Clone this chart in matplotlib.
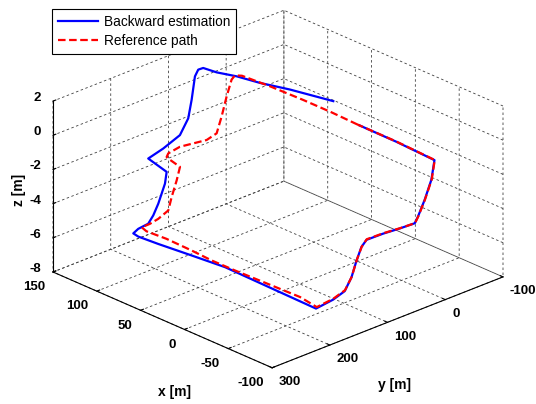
import numpy as np
import matplotlib
matplotlib.use('Agg')
import matplotlib.pyplot as plt

# reference path (forward order), metres
ref_x = [0, 30, 62, 100, 132, 133, 133, 133, 133, 133, 133, 133, 133, 133, 131,
         118, 118, 118, 118, 118, 118, 112, 106.6, 83.7, 55, 32, 5.5, -68.7, -88,
         -88, -88, -88, -88, -88, -88, -88, -88, -88, -88, -88, -88, -88, -44, 0]
ref_y = [0, 0, 0, 0, 0, 10.6, 16.4, 25, 33.7, 42.3, 59.7, 105.9, 126.1, 128.9, 129.1,
         128.6, 134.3, 143, 148.9, 166.2, 180.6, 204, 204, 204, 204, 204, 204, 204, 204.4,
         175.7, 155.4, 143.8, 135.2, 126.5, 117.8, 89.1, 60.2, 34.2, 28.5, 16.9, 5.3, 0, 0, 0]
ref_z = [0, 0.05, 0.05, 0, -0.1, 0.04, -0.13, -1.0, -2.06, -2.93, -3.09, -2.87, -2.99, -3.16, -3.21,
         -3.41, -4.12, -4.98, -5.69, -5.95, -6.05, -5.81, -5.92, -5.85, -5.89, -5.96, -5.95, -5.84, -5.99,
         -5.88, -5.65, -5.02, -4.16, -3.49, -3.17, -3.2, -3.29, -3.34, -3.02, -2.19, -1.17, -0.1, 0, 0]

# backward estimation (runs from the end of the reference back to its start)
est_x = [-2, -44, -88, -88, -88, -88, -88, -88, -88, -88, -88, -88, -88, -88, -88, -87.5,
         16.9, 55, 93.1, 115.9, 121.6, 124, 124, 124, 124, 124, 124, 145, 145, 145, 145,
         145, 145, 145, 142.5, 129.2, 112.9, 91.3, 66, 26.6]
est_y = [0, 0.5, 0.5, 5.8, 17.4, 29, 34.7, 60.7, 89.6, 118.3, 127, 135.7, 144.3, 156, 176, 205,
         204, 204, 204, 204, 204, 191.8, 174.5, 165.8, 157.1, 145.5, 142.6, 142.6, 116.6, 87.7, 73.3,
         67.4, 61.7, 56, 51.2, 48.1, 38.1, 30.6, 17.1, 1.8]
est_z = [0, 0, -0.1, -1.17, -2.19, -3.02, -3.34, -3.3, -3.22, -3.2, -3.5, -4.2, -5.05, -5.7, -5.93, -6.08,
         -6.01, -6.18, -6.36, -6.44, -6.38, -6.33, -6.26, -5.89, -5.32, -4.3, -3.65, -3.34, -3.1, -2.7, -1.91,
         -0.9, 0.39, 0.71, 0.8, 0.8, 0.8, 0.8, 0.8, 0.8]

xticks = [-100, -50, 0, 50, 100, 150]
yticks = [-100, 0, 100, 200, 300]
zticks = [-8, -6, -4, -2, 0, 2]

plt.rcParams['font.family'] = ['Liberation Sans', 'DejaVu Sans']
plt.rcParams['font.weight'] = 'bold'
plt.rcParams['axes.unicode_minus'] = False

W, H = 536, 404
fig = plt.figure(figsize=(W / 100, H / 100), dpi=100)
ax = fig.add_axes([0, 0, 1, 1], projection='3d', proj_type='ortho')
ax.computed_zorder = False
ax.view_init(elev=24.5, azim=136.5)
ax.set_box_aspect((1, 1, 0.59))

ax.plot(est_x, est_y, est_z, color='b', lw=1.6, zorder=3, label='Backward estimation')
ax.plot(ref_x, ref_y, ref_z, color='r', lw=1.6, ls=(0, (3.4, 1.6)), zorder=4,
        label='Reference path')

ax.set_xlim(-100, 150)
ax.set_ylim(-100, 300)
ax.set_zlim(-8, 2)
ax.set_xticks(xticks)
ax.set_yticks(yticks)
ax.set_zticks(zticks)
ax.tick_params(labelsize=9.5)
ax.tick_params(axis='x', pad=-1.7)
ax.tick_params(axis='y', pad=-2.5)
ax.tick_params(axis='z', pad=-3.4)
ax.zaxis.set_ticks_position('upper')

for axis in (ax.xaxis, ax.yaxis, ax.zaxis):
    axis.set_pane_color((1, 1, 1, 0))
    axis._axinfo['grid'].update({'color': '0.25', 'linewidth': 0.6,
                                 'linestyle': (0, (3, 3))})
    axis._axinfo['tick']['inward_factor'] = 0.0
    axis._axinfo['tick']['outward_factor'] = 0.15
    axis._axinfo['axisline']['color'] = 'k'

# fit the projected box onto the region it takes in the reference
fig.canvas.draw()
lims = [ax.get_xlim(), ax.get_ylim(), ax.get_zlim()]
pts = np.array([[x, y, z, 1] for x in lims[0] for y in lims[1] for z in lims[2]])
M = ax.get_proj()
v = pts @ M.T
disp = ax.transData.transform(np.column_stack([v[:, 0] / v[:, 3], v[:, 1] / v[:, 3]]))
l, r = disp[:, 0].min(), disp[:, 0].max()
b, t = disp[:, 1].min(), disp[:, 1].max()
pos = ax.get_position()
S = pos.width * W
cx, cy = (pos.x0 + pos.width / 2) * W, (pos.y0 + pos.height / 2) * H
k = (503 - 53) / (r - l)
tx, ty = (53 + 503) / 2, H - (11 + 367) / 2
ncx = tx - ((l + r) / 2 - cx) * k
ncy = ty - ((b + t) / 2 - cy) * k
S2 = S * k
ax.set_position([(ncx - S2 / 2) / W, (ncy - S2 / 2) / H, S2 / W, S2 / H])

for lab in ax.get_xticklabels():
    lab.set_ha('right')
for lab in ax.get_yticklabels():
    lab.set_ha('left')
for lab in ax.get_zticklabels():
    lab.set_ha('right')
    lab.set_va('baseline')

fig.text(19 / W, 1 - 190 / H, 'z [m]', rotation=90, ha='center', va='center', fontsize=10)
fig.text(174 / W, 1 - 392 / H, 'x [m]', ha='center', va='center', fontsize=10)
fig.text(394 / W, 1 - 385 / H, 'y [m]', ha='center', va='center', fontsize=10)

leg = ax.legend(loc='upper left', bbox_to_anchor=(52 / W, 1 - 9 / H),
                bbox_transform=fig.transFigure, borderaxespad=0, fancybox=False,
                framealpha=1, edgecolor='k', prop={'weight': 'normal', 'size': 9.8},
                handlelength=2.9, handletextpad=0.45, borderpad=0.45, labelspacing=0.35)
leg.get_frame().set_linewidth(0.8)

fig.savefig('out.png', dpi=100)
